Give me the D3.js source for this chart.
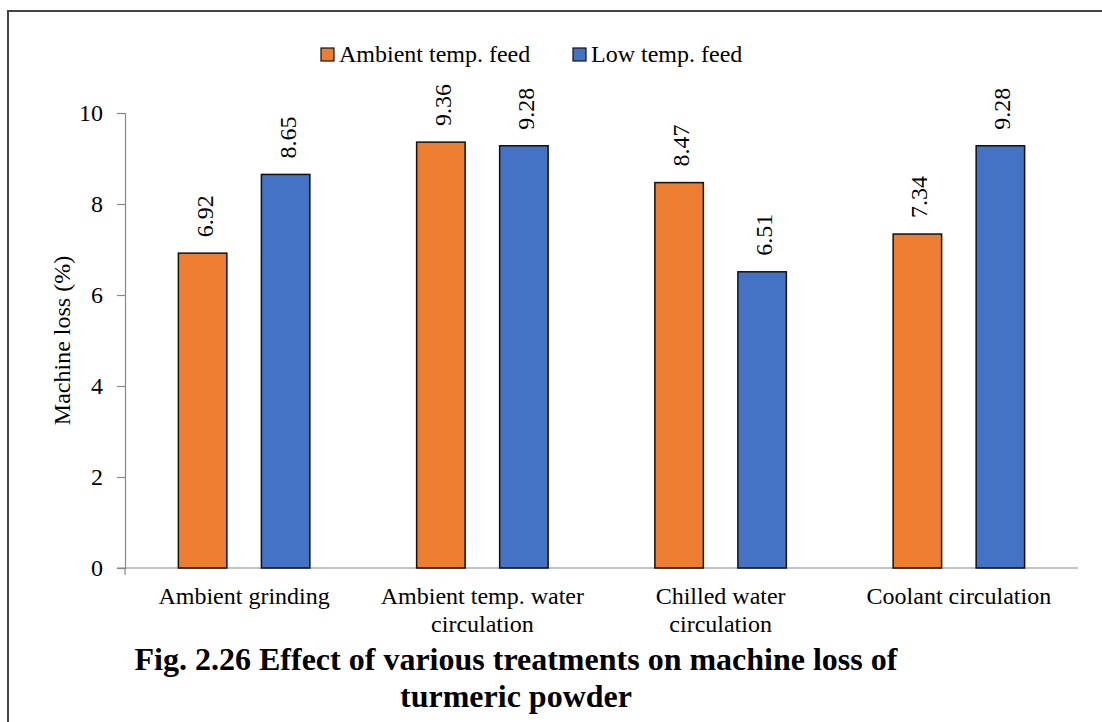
<!DOCTYPE html>
<html>
<head>
<meta charset="utf-8">
<script src="https://cdn.jsdelivr.net/npm/d3@7"></script>
<style>
  html, body { margin: 0; padding: 0; background: #fff; }
  svg text { font-family: "Liberation Serif", "Times New Roman", serif; fill: #000; }
</style>
</head>
<body>
<svg id="chart" width="1102" height="722"></svg>
<script>
// Treatments (x categories); "\n" marks a line break in the label
const categories = [
  "Ambient grinding",
  "Ambient temp. water\ncirculation",
  "Chilled water\ncirculation",
  "Coolant circulation"
];
const seriesNames = ["Ambient temp. feed", "Low temp. feed"];
const ambientFeed = [6.92, 9.36, 8.47, 7.34];
const lowTempFeed = [8.65, 9.28, 6.51, 9.28];
const yTicks = [0, 2, 4, 6, 8, 10];
const colors = ["#ED7D31", "#4472C4"];

const FONT = "'Liberation Serif', 'Times New Roman', serif";
const svg = d3.select("#chart");
const plot = { left: 125, right: 1078, top: 113, bottom: 568 };

// Frame around the figure (left and top edges)
svg.append("path")
  .attr("d", "M8,722 L8,11 L1102,11")
  .attr("fill", "none").attr("stroke", "#444").attr("stroke-width", 2);

const x0 = d3.scaleBand().domain(d3.range(categories.length))
  .range([plot.left, plot.right]).paddingInner(0).paddingOuter(0);
const x1 = d3.scaleBand().domain([0, 1]).range([0, x0.bandwidth()])
  .paddingInner(0.416).paddingOuter(0.643);
const y = d3.scaleLinear().domain([0, 10]).range([plot.bottom, plot.top]);

// Y axis
const yAxis = svg.append("g").attr("transform", `translate(${plot.left},0)`)
  .call(d3.axisLeft(y).tickValues(yTicks).tickSize(8).tickPadding(14));
yAxis.select(".domain").attr("stroke", "#888").attr("stroke-width", 1.2);
yAxis.selectAll(".tick line").attr("stroke", "#888").attr("stroke-width", 1.2);
yAxis.selectAll(".tick text").style("font-size", "24px").attr("fill", "#000")
  .style("font-family", FONT);

// X axis baseline with a tick at the origin
svg.append("line")
  .attr("x1", plot.left - 8).attr("x2", plot.right)
  .attr("y1", plot.bottom).attr("y2", plot.bottom)
  .attr("stroke", "#888").attr("stroke-width", 1.2);
svg.append("line")
  .attr("x1", plot.left).attr("x2", plot.left)
  .attr("y1", plot.bottom).attr("y2", plot.bottom + 7)
  .attr("stroke", "#888").attr("stroke-width", 1.2);

// Bars
const series = [ambientFeed, lowTempFeed];
series.forEach((vals, s) => {
  const g = svg.append("g");
  g.selectAll("rect").data(vals).join("rect")
    .attr("x", (d, i) => x0(i) + x1(s))
    .attr("y", d => y(d))
    .attr("width", x1.bandwidth())
    .attr("height", d => y(0) - y(d))
    .attr("fill", colors[s])
    .attr("stroke", "#111").attr("stroke-width", 1.5);
  // Rotated value labels above bars
  g.selectAll("text").data(vals).join("text")
    .attr("transform", (d, i) => {
      const cx = x0(i) + x1(s) + x1.bandwidth() / 2;
      return `translate(${cx + 10},${y(d) - 16}) rotate(-90)`;
    })
    .attr("text-anchor", "start")
    .style("font-size", "24px")
    .text(d => d.toFixed(2));
});

// Category labels
categories.forEach((c, i) => {
  const cx = x0(i) + x0.bandwidth() / 2;
  c.split("\n").forEach((line, j) => {
    svg.append("text")
      .attr("x", cx).attr("y", 604 + j * 28)
      .attr("text-anchor", "middle")
      .style("font-size", "24px")
      .text(line);
  });
});

// Y axis title
svg.append("text")
  .attr("transform", `translate(70,${(plot.top + plot.bottom) / 2}) rotate(-90)`)
  .attr("text-anchor", "middle")
  .style("font-size", "24px")
  .text("Machine loss (%)");

// Legend
const legendItems = [{ x: 321, name: seriesNames[0] }, { x: 573, name: seriesNames[1] }];
legendItems.forEach((it, s) => {
  svg.append("rect")
    .attr("x", it.x).attr("y", 48).attr("width", 13).attr("height", 13)
    .attr("fill", colors[s]).attr("stroke", "#111").attr("stroke-width", 1.2);
  svg.append("text")
    .attr("x", it.x + 18).attr("y", 62)
    .style("font-size", "24px")
    .text(it.name);
});

// Figure caption
const caption = ["Fig. 2.26 Effect of various treatments on machine loss of", "turmeric powder"];
caption.forEach((line, j) => {
  svg.append("text")
    .attr("x", 516).attr("y", 670 + j * 37)
    .attr("text-anchor", "middle")
    .style("font-size", "32px").style("font-weight", "bold")
    .text(line);
});
</script>
</body>
</html>
